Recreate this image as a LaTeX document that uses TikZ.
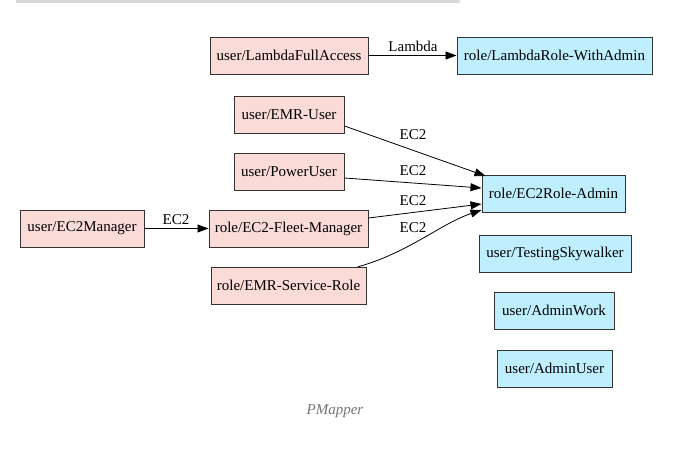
\documentclass[tikz,border=0pt]{standalone}
\usepackage{fontspec}
\setmainfont{Liberation Serif}
\usetikzlibrary{arrows.meta}
\definecolor{pinkfill}{HTML}{FADBD8}
\definecolor{bluefill}{HTML}{BFEFFF}
\definecolor{bordercol}{HTML}{333333}
\definecolor{barcol}{HTML}{D9D9D9}
\begin{document}
\begin{tikzpicture}[x=1pt,y=-1pt,
  box/.style={draw=bordercol,line width=1pt,minimum height=37pt,inner xsep=2pt,inner ysep=0pt,font=\fontsize{15}{17}\selectfont},
  pinkbox/.style={box,fill=pinkfill},
  bluebox/.style={box,fill=bluefill},
  edge/.style={draw=black,line width=0.8pt,-{Triangle[length=11pt,width=8pt]}},
  lbl/.style={font=\fontsize{15}{17}\selectfont,inner sep=0pt}]
\useasboundingbox (0,0) rectangle (683,455);
\fill[barcol] (16,0) rectangle (460,3);
\node[pinkbox,minimum width=158pt] (lfa) at (289,55.5) {user/LambdaFullAccess};
\node[bluebox,minimum width=195pt] (lra) at (554.5,55.5) {role/LambdaRole-WithAdmin};
\node[pinkbox,minimum width=110pt] (emru) at (289,114.5) {user/EMR-User};
\node[pinkbox,minimum width=110pt] (pu) at (289,171.5) {user/PowerUser};
\node[pinkbox,minimum width=124pt] (ecm) at (82,228.5) {user/EC2Manager};
\node[pinkbox,minimum width=159pt] (efm) at (288.5,228.5) {role/EC2-Fleet-Manager};
\node[pinkbox,minimum width=155pt] (esr) at (288.5,285.5) {role/EMR-Service-Role};
\node[bluebox,minimum width=143pt] (era) at (553.5,193.5) {role/EC2Role-Admin};
\node[bluebox,minimum width=152pt] (tsw) at (555,253.5) {user/TestingSkywalker};
\node[bluebox,minimum width=120pt] (aw) at (554,310.5) {user/AdminWork};
\node[bluebox,minimum width=115pt] (au) at (554.5,368.5) {user/AdminUser};
\node[font=\fontsize{15}{17}\selectfont\itshape,text=black!55] (pm) at (335,411) {PMapper};
% edges
\draw[edge] (lfa.east) -- (lra.west);
\node[lbl] (l1) at (413,46) {Lambda};
\draw[edge] ([yshift=-11.5pt]emru.east) -- ([xshift=4pt,yshift=17.5pt]era.west);
\node[lbl] (l2) at (413,135) {EC2};
\draw[edge] ([yshift=-6.5pt]pu.east) -- ([yshift=5.5pt]era.west);
\node[lbl] (l3) at (413,171) {EC2};
\draw[edge] ([yshift=10.5pt]efm.east) -- ([yshift=-10.5pt]era.west);
\node[lbl] (l4) at (413,201) {EC2};
\draw[edge] ([xshift=-9pt,yshift=18.5pt]esr.east) .. controls (410,252) and (440,224) .. ([yshift=-16.5pt]era.west);
\node[lbl] (l5) at (413,228) {EC2};
\draw[edge] (ecm.east) -- (efm.west);
\node[lbl] (l6) at (176,220) {EC2};
\end{tikzpicture}
\end{document}
